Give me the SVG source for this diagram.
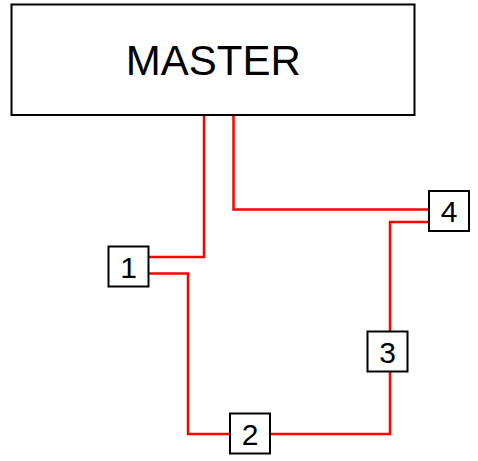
<svg xmlns="http://www.w3.org/2000/svg" width="478" height="461" viewBox="0 0 478 461">
<style>
.box{fill:#fff;stroke:#000;stroke-width:2}
.lbl{font-family:"Liberation Sans",Arial,sans-serif;fill:#000;text-anchor:middle}
.num{font-size:30px}
.wire{fill:none;stroke:#f00;stroke-width:2.5}
</style>
<rect width="478" height="461" fill="#fff"/>
<g id="connectors">
<polyline class="wire" points="204,115 204,257 149,257"/>
<polyline class="wire" points="233.5,115 233.5,209.5 429,209.5"/>
<polyline class="wire" points="149,273.5 188,273.5 188,434 230,434"/>
<polyline class="wire" points="270,434 390,434 390,371.5"/>
<polyline class="wire" points="390,331.5 390,222 429,222"/>
</g>
<g id="master">
<rect class="box" x="11.5" y="4.5" width="403" height="110.5"/>
<text class="lbl" x="213.3" y="74.5" font-size="42">MASTER</text>
</g>
<g id="node1">
<rect class="box" x="108.5" y="246.5" width="40" height="40"/>
<text class="lbl num" x="128.5" y="277.5">1</text>
</g>
<g id="node2">
<rect class="box" x="230" y="413.5" width="40" height="40"/>
<text class="lbl num" x="250" y="444.5">2</text>
</g>
<g id="node3">
<rect class="box" x="367.5" y="331.5" width="40" height="40"/>
<text class="lbl num" x="387.5" y="362.5">3</text>
</g>
<g id="node4">
<rect class="box" x="429" y="191" width="40" height="40"/>
<text class="lbl num" x="449" y="222">4</text>
</g>
</svg>
